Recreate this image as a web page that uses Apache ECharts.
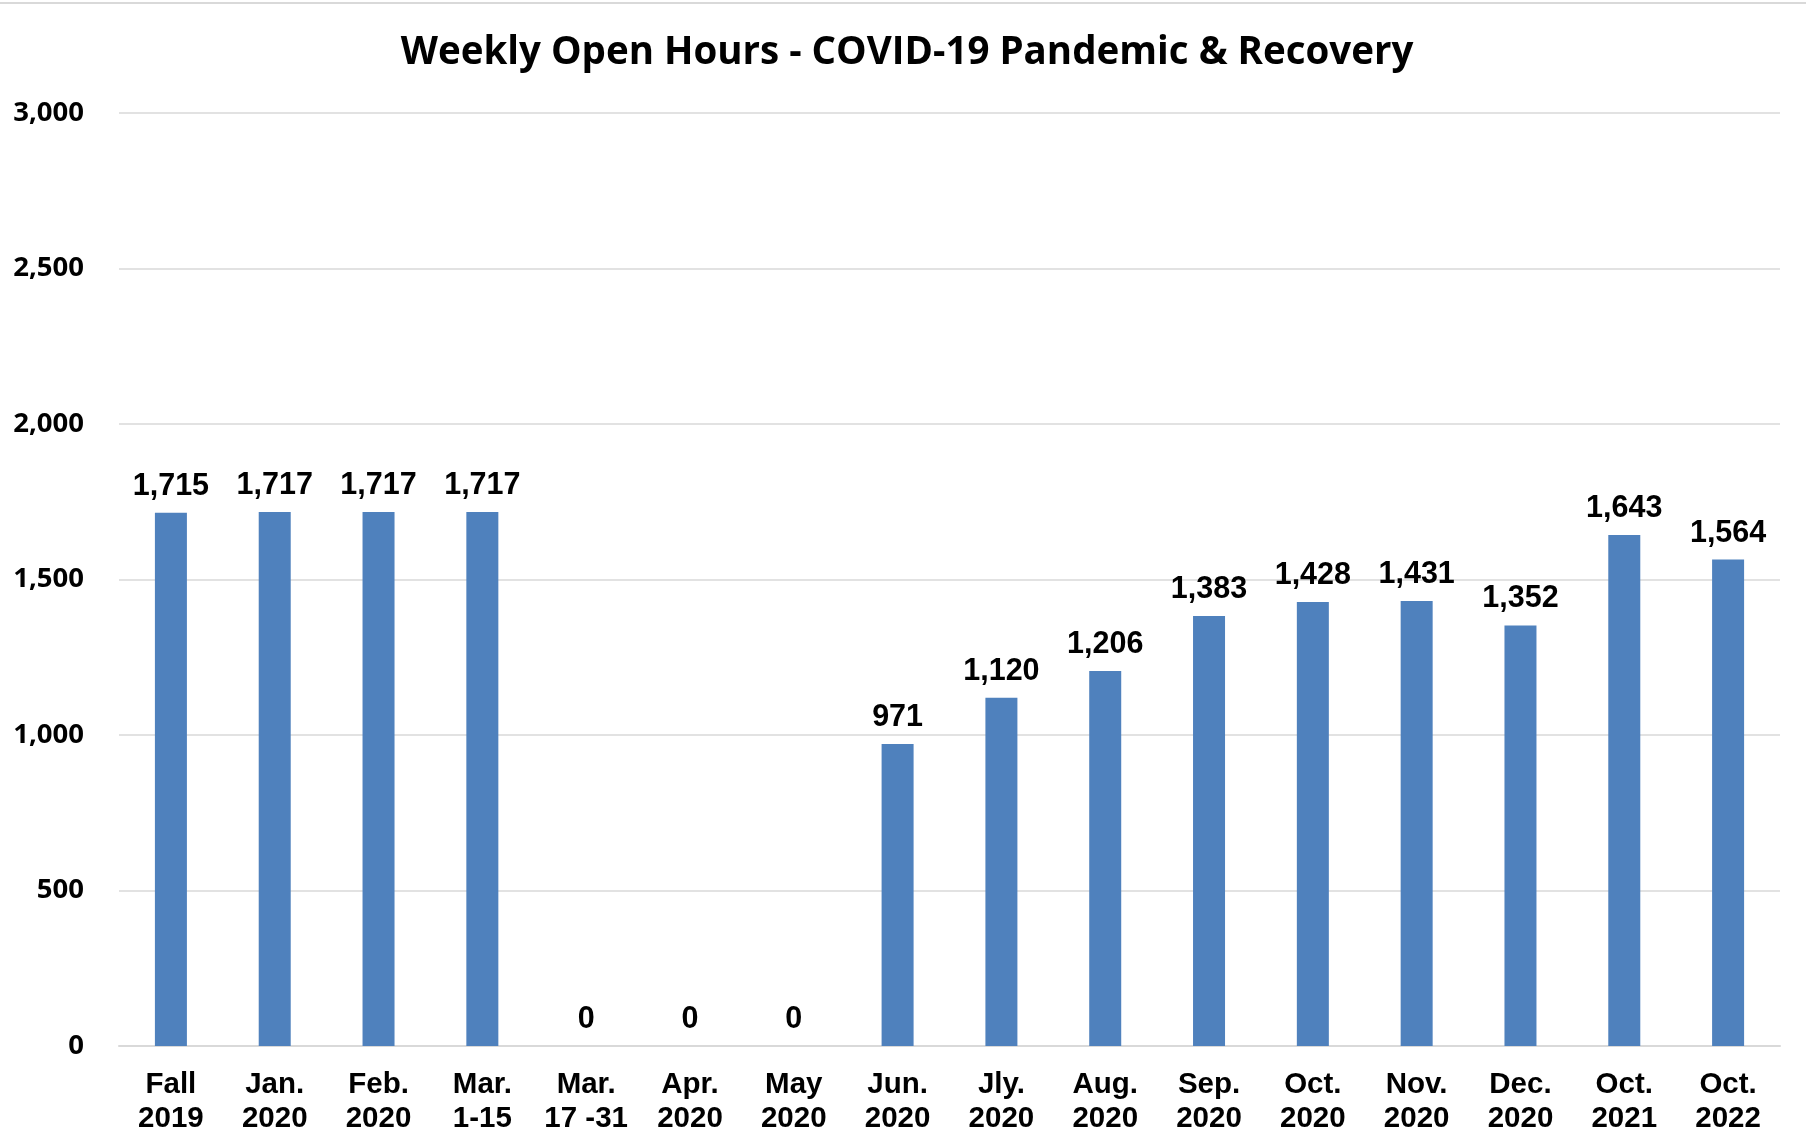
<!DOCTYPE html>
<html>
<head>
<meta charset="utf-8">
<script src="https://cdn.jsdelivr.net/npm/echarts@6/dist/echarts.min.js"></script>
<style>
  html, body { margin: 0; padding: 0; background: #fff; }
  #chart { width: 1806px; height: 1147px; }
</style>
</head>
<body>
<div id="chart"></div>
<script>
const categories = [
  'Fall\n2019', 'Jan.\n2020', 'Feb.\n2020', 'Mar.\n1-15', 'Mar.\n17 -31', 'Apr.\n2020',
  'May\n2020', 'Jun.\n2020', 'Jly.\n2020', 'Aug.\n2020', 'Sep.\n2020', 'Oct.\n2020',
  'Nov.\n2020', 'Dec.\n2020', 'Oct.\n2021', 'Oct.\n2022'
];
const openHours = [1715, 1717, 1717, 1717, 0, 0, 0, 971, 1120, 1206, 1383, 1428, 1431, 1352, 1643, 1564];
const yTicks = { min: 0, max: 3000, interval: 500 };

const fmt = v => v.toLocaleString('en-US');

const chart = echarts.init(document.getElementById('chart'));
chart.setOption({
  animation: false,
  backgroundColor: '#ffffff',
  title: {
    text: 'Weekly Open Hours - COVID-19 Pandemic & Recovery',
    left: 902,
    textAlign: 'center',
    top: 29,
    textStyle: {
      fontFamily: 'Open Sans',
      fontWeight: 'bold',
      fontSize: 38.5,
      color: '#000'
    }
  },
  graphic: [{
    type: 'line',
    shape: { x1: 0, y1: 3, x2: 1806, y2: 3 },
    style: { stroke: '#d9d9d9', lineWidth: 2 }
  }],
  grid: { left: 119, right: 26, top: 113, bottom: 101 },
  xAxis: {
    type: 'category',
    data: categories,
    axisLine: { lineStyle: { color: '#d9d9d9', width: 2 } },
    axisTick: { show: false },
    axisLabel: {
      margin: 22,
      interval: 0,
      color: '#000',
      fontFamily: 'Liberation Sans',
      fontWeight: 'bold',
      fontSize: 29.5,
      lineHeight: 34
    }
  },
  yAxis: {
    type: 'value',
    min: yTicks.min,
    max: yTicks.max,
    interval: yTicks.interval,
    axisLine: { show: false },
    axisTick: { show: false },
    splitLine: { lineStyle: { color: '#d9d9d9', width: 1.5 } },
    axisLabel: {
      margin: 35,
      color: '#000',
      fontFamily: 'Open Sans',
      fontWeight: 'bold',
      fontSize: 27.5,
      formatter: fmt
    }
  },
  series: [{
    type: 'bar',
    data: openHours,
    barWidth: 32,
    itemStyle: { color: '#4f81bd' },
    label: {
      show: true,
      position: 'top',
      distance: 11,
      color: '#000',
      fontFamily: 'Liberation Sans',
      fontWeight: 'bold',
      fontSize: 30.5,
      formatter: p => fmt(p.value)
    }
  }]
});
</script>
</body>
</html>
